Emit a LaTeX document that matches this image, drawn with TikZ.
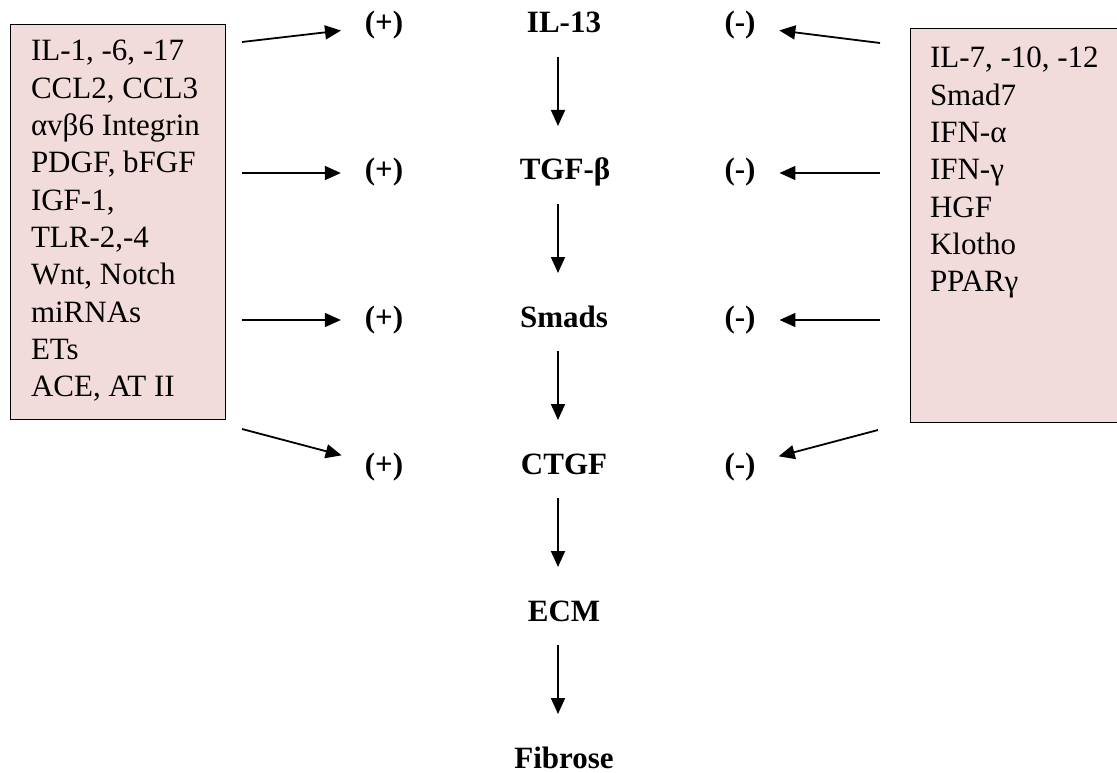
\documentclass[tikz,border=0pt]{standalone}
\usepackage{fontspec}
\setmainfont{Liberation Serif}
\usetikzlibrary{arrows.meta}
\definecolor{boxpink}{HTML}{F2DCDB}
\begin{document}
\begin{tikzpicture}[x=1pt,y=-1pt,
  every node/.style={inner sep=0pt, outer sep=0pt},
  lbl/.style={font=\fontsize{31}{37}\selectfont\bfseries, anchor=base, text height=22pt, text depth=7pt},
  sign/.style={font=\fontsize{31}{37}\selectfont\bfseries, anchor=base},
  boxline/.style={font=\fontsize{31}{37}\selectfont, anchor=base west},
  pbox/.style={draw=black, line width=1pt, fill=boxpink},
  arr/.style={line width=1.8pt, -{Triangle[length=16pt,width=14pt]}},
  varr/.style={arr, shorten <=17pt, shorten >=32pt},
  harr/.style={arr, shorten >=24pt},
]
\useasboundingbox (0,0) rectangle (1117,773);

% boxes
\draw[pbox] (10,25) rectangle (225,419);
\draw[pbox] (910,29) rectangle (1125,422);

% left box text
\foreach \t [count=\i] in {{IL-1, -6, -17},{CCL2, CCL3},{αvβ6 Integrin},{PDGF, bFGF},{IGF-1,},{TLR-2,-4},{Wnt, Notch},{miRNAs},{ETs},{ACE, AT II}}
  \node[boxline] (l\i) at (31,{61+37.3*(\i-1)}) {\t};

% right box text
\foreach \t [count=\i] in {{IL-7, -10, -12},Smad7,IFN-α,IFN-γ,HGF,Klotho,PPARγ}
  \node[boxline] (r\i) at (930,{68+37.3*(\i-1)}) {\t};

% central chain
\coordinate (spine) at (558,0);
\node[lbl] (il13) at (564,33) {IL-13};
\node[lbl] (tgf) at (565,180) {TGF-β};
\node[lbl] (smads) at (564,327) {Smads};
\node[lbl] (ctgf) at (564,474) {CTGF};
\node[lbl] (ecm) at (564,621) {ECM};
\node[lbl] (fib) at (564,768) {Fibrose};

\draw[varr] (il13.south -| spine) -- (tgf.north -| spine);
\draw[varr] (tgf.south -| spine) -- (smads.north -| spine);
\draw[varr] (smads.south -| spine) -- (ctgf.north -| spine);
\draw[varr] (ctgf.south -| spine) -- (ecm.north -| spine);
\draw[varr] (ecm.south -| spine) -- (fib.north -| spine);

% plus / minus
\node[sign] (p1) at (384,33) {(+)};
\node[sign] (p2) at (384,180) {(+)};
\node[sign] (p3) at (384,327) {(+)};
\node[sign] (p4) at (384,474) {(+)};
\node[sign] (m1) at (740,33) {(-)};
\node[sign] (m2) at (740,180) {(-)};
\node[sign] (m3) at (740,327) {(-)};
\node[sign] (m4) at (740,474) {(-)};

% arrow start points
\coordinate (ls1) at (242,42);
\coordinate (ls2) at (242,173);
\coordinate (ls3) at (242,320);
\coordinate (ls4) at (242,429);
\coordinate (rs1) at (880,43);
\coordinate (rs2) at (880,173);
\coordinate (rs3) at (880,320);
\coordinate (rs4) at (878,430);

\draw[harr] (ls1) -- (p1);
\draw[harr] (ls2) -- (ls2 -| p2.west);
\draw[harr] (ls3) -- (ls3 -| p3.west);
\draw[harr] (ls4) -- (p4);
\draw[harr] (rs1) -- (m1);
\draw[harr] (rs2) -- (rs2 -| m2.east);
\draw[harr] (rs3) -- (rs3 -| m3.east);
\draw[harr] (rs4) -- (m4);
\end{tikzpicture}
\end{document}
